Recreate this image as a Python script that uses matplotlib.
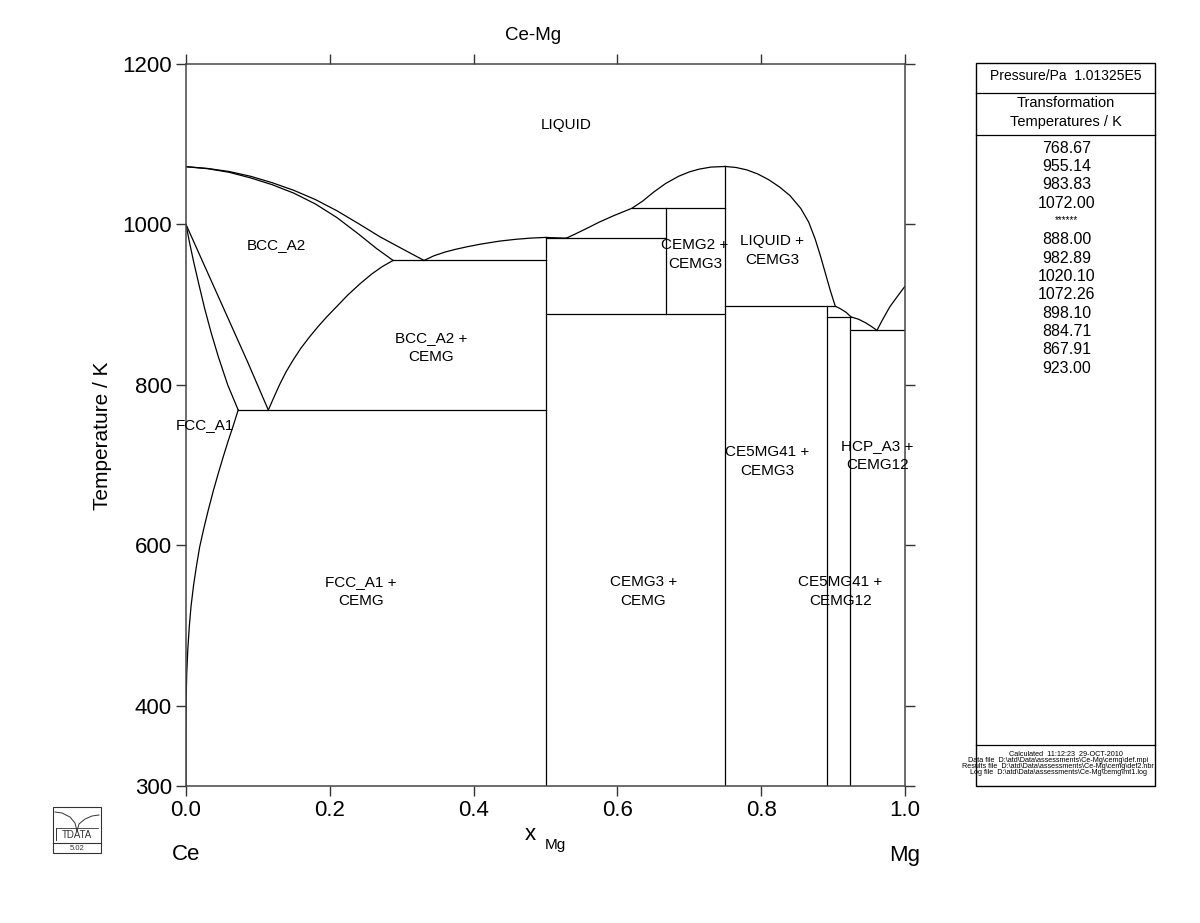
import matplotlib
matplotlib.use("Agg")
import matplotlib.pyplot as plt
from matplotlib.patches import Rectangle

plt.rcParams['font.family'] = ['Liberation Sans', 'DejaVu Sans']

# phase boundaries (x_Mg, T/K)
ceLiquidusX = [0.0, 0.03, 0.06, 0.09, 0.12, 0.15, 0.18, 0.21, 0.24, 0.27, 0.30, 0.331]
ceLiquidusT = [1072.0, 1069.8, 1066, 1060, 1052, 1042.5, 1031, 1017, 1001, 984.5, 970, 955.14]
bccSolidusX = [0.0, 0.03, 0.06, 0.09, 0.12, 0.15, 0.18, 0.21, 0.24, 0.265, 0.288]
bccSolidusT = [1072.0, 1069.5, 1065, 1058, 1049.5, 1039, 1025.5, 1008.5, 988, 970, 955.14]
bccSolvusX = [0.1145, 0.122, 0.13, 0.139, 0.149, 0.16, 0.172, 0.184, 0.196, 0.21, 0.225,
              0.242, 0.258, 0.273, 0.288]
bccSolvusT = [768.67, 784, 800, 816, 831, 846, 860, 873, 885, 898, 912, 926, 938, 947.5, 955.14]
fccBccX = [0.0, 0.005, 0.011, 0.018, 0.026, 0.035, 0.045, 0.058, 0.0726]
fccBccT = [1000, 977, 952, 925, 895, 865, 835, 800, 768.67]
bccFccX = [0.0, 0.028, 0.057, 0.086, 0.1145]
bccFccT = [1000, 944, 886, 828, 768.67]
fccSolvusX = [0.0726, 0.066, 0.059, 0.052, 0.045, 0.038, 0.031, 0.025, 0.019, 0.0145, 0.0105,
              0.007, 0.0045, 0.0025, 0.001, 0.0003, 0.0, 0.0]
fccSolvusT = [768.67, 750, 731, 711, 690, 668, 644, 622, 598, 574, 550,
              524, 498, 470, 440, 410, 370, 300]
midLiquidusX = [0.331, 0.345, 0.36, 0.375, 0.39, 0.41, 0.4367, 0.46, 0.48, 0.5, 0.515, 0.529]
midLiquidusT = [955.14, 961, 965.5, 969, 972, 975.5, 979.3, 981.6, 983, 983.83, 983.3, 982.89]
cemg3LiquidusX = [0.529, 0.54, 0.555, 0.575, 0.595, 0.62, 0.635, 0.65, 0.667, 0.685, 0.70,
                  0.714, 0.73, 0.75]
cemg3LiquidusT = [982.89, 987.5, 994, 1003, 1011, 1020.1, 1029, 1040, 1051, 1060, 1065.5,
                  1069, 1071.5, 1072.26]
mgSideLiquidusX = [0.75, 0.765, 0.78, 0.795, 0.81, 0.825, 0.84, 0.855, 0.866, 0.875, 0.882,
                   0.889, 0.896, 0.903, 0.91, 0.918, 0.925, 0.935, 0.945, 0.953, 0.961]
mgSideLiquidusT = [1072.26, 1071, 1068, 1063, 1056, 1047, 1036, 1020, 1003, 982, 962,
                   940, 918, 898.1, 895, 890.5, 884.71, 882, 877.5, 873, 867.91]
hcpLiquidusX = [0.961, 0.968, 0.979, 0.99, 1.0]
hcpLiquidusT = [867.91, 880, 897.5, 911, 923]

# invariant lines: (x_start, x_end, T)
invariants = [(0.0726, 0.5, 768.67), (0.288, 0.5, 955.14), (0.5, 0.667, 982.89),
              (0.62, 0.75, 1020.10), (0.5, 0.75, 888.00), (0.75, 0.903, 898.10),
              (0.8913, 0.925, 884.71), (0.923, 1.0, 867.91)]
# compounds: (x, T_bottom, T_top)
compounds = [(0.5, 300, 983.83), (0.667, 888.00, 1020.10), (0.75, 300, 1072.26),
             (0.8913, 300, 898.10), (0.923, 300, 884.71)]

regionLabels = ["LIQUID", "BCC_A2", "BCC_A2 +\nCEMG", "FCC_A1", "FCC_A1 +\nCEMG",
                "CEMG3 +\nCEMG", "CEMG2 +\nCEMG3", "LIQUID +\nCEMG3", "CE5MG41 +\nCEMG3",
                "HCP_A3 +\nCEMG12", "CE5MG41 +\nCEMG12"]
labelX = [0.5285, 0.125, 0.341, 0.026, 0.243, 0.636, 0.708, 0.815, 0.808, 0.962, 0.91]
labelT = [1124, 974, 846, 750, 543, 543, 963, 968, 705, 712, 543]

transTemps = ["768.67", "955.14", "983.83", "1072.00", "******", "888.00", "982.89",
              "1020.10", "1072.26", "898.10", "884.71", "867.91", "923.00"]
fileInfo = ["Calculated  11:12:23  29-OCT-2010",
            r"Data file  D:\atd\Data\assessments\Ce-Mg\cemg\def.mpi",
            r"Results file  D:\atd\Data\assessments\Ce-Mg\cemg\def2.nbr",
            r"Log file  D:\atd\Data\assessments\Ce-Mg\cemg\mt1.log"]

W, H = 1200, 923
fig = plt.figure(figsize=(W / 100, H / 100), dpi=100)
fig.set_facecolor('white')

def fx(px):
    return px / W

def fy(py):
    return 1 - py / H

ax = fig.add_axes([fx(186), fy(786), (905 - 186) / W, (786 - 64) / H])
lc = 'black'
lw = 0.9
for xs, ts in [(ceLiquidusX, ceLiquidusT), (bccSolidusX, bccSolidusT), (bccSolvusX, bccSolvusT),
               (fccBccX, fccBccT), (bccFccX, bccFccT), (fccSolvusX, fccSolvusT),
               (midLiquidusX, midLiquidusT), (cemg3LiquidusX, cemg3LiquidusT),
               (mgSideLiquidusX, mgSideLiquidusT), (hcpLiquidusX, hcpLiquidusT)]:
    ax.plot(xs, ts, color=lc, linewidth=lw)
for x0, x1, t in invariants:
    ax.plot([x0, x1], [t, t], color=lc, linewidth=lw)
for x, t0, t1 in compounds:
    ax.plot([x, x], [t0, t1], color=lc, linewidth=lw)

for lab, x, t in zip(regionLabels, labelX, labelT):
    ax.text(x, t, lab, ha='center', va='center', fontsize=11, linespacing=1.45, clip_on=False)

ax.set_xlim(0, 1)
ax.set_ylim(300, 1200)
ax.set_xticks([0.0, 0.2, 0.4, 0.6, 0.8, 1.0])
ax.set_xticklabels(["0.0", "0.2", "0.4", "0.6", "0.8", "1.0"])
ax.set_yticks([300, 400, 600, 800, 1000, 1200])
ax.tick_params(direction='out', length=7, width=1, labelsize=16, top=True, right=True,
               colors='#333333', labelcolor='black', pad=3)
for s in ax.spines.values():
    s.set_color('#444444')
    s.set_linewidth(1.1)

fig.text(fx(533), fy(35), "Ce-Mg", ha='center', va='center', fontsize=13.5)
fig.text(fx(103), fy(436), "Temperature / K", ha='center', va='center', fontsize=15, rotation=90)
fig.text(fx(530), fy(835), "x", ha='center', va='center', fontsize=16)
fig.text(fx(555), fy(845), "Mg", ha='center', va='center', fontsize=11)
fig.text(fx(186), fy(855), "Ce", ha='center', va='center', fontsize=16)
fig.text(fx(905), fy(855), "Mg", ha='center', va='center', fontsize=16)

# right-hand information panel
ov = fig.add_axes([0, 0, 1, 1])
ov.set_xlim(0, W)
ov.set_ylim(H, 0)
ov.axis('off')
ov.patch.set_alpha(0)
px0, px1, py0, py1 = 976, 1155, 63, 786
ov.add_patch(Rectangle((px0, py0), px1 - px0, py1 - py0, fill=False, edgecolor='black', linewidth=1))
for yl in [93, 135, 745]:
    ov.plot([px0, px1], [yl, yl], color='black', linewidth=0.9)
cx = (px0 + px1) / 2
ov.text(cx, 76, "Pressure/Pa  1.01325E5", ha='center', va='center', fontsize=10)
ov.text(cx, 103, "Transformation", ha='center', va='center', fontsize=10.5)
ov.text(cx, 122, "Temperatures / K", ha='center', va='center', fontsize=10.5)
for i, s in enumerate(transTemps):
    yy = 148.3 + i * 18.33
    if s.startswith('*'):
        ov.text(cx + 1, yy - 2, s, ha='center', va='center', fontsize=7)
    else:
        ov.text(cx + 1, yy, s, ha='center', va='center', fontsize=11.5)
for i, s in enumerate(fileInfo):
    ov.text(1058 if i else cx, 755 + i * 5.8, s, ha='center', va='center', fontsize=5.2)

# TDATA logo
ov.add_patch(Rectangle((53, 807), 48, 46, fill=False, edgecolor='#333333', linewidth=0.8))
ov.plot([53, 101], [843, 843], color='#333333', linewidth=0.8)
ov.plot([55, 62, 70, 75, 77], [812, 813, 817, 823, 831], color='#333333', linewidth=0.7)
ov.plot([77, 79, 85, 92, 99], [831, 824, 819, 816, 815], color='#333333', linewidth=0.7)
ov.plot([56, 56], [828, 840], color='#333333', linewidth=0.7)
ov.plot([56, 98], [828, 828], color='#333333', linewidth=0.6)
ov.text(77, 835, "TDATA", ha='center', va='center', fontsize=7, color='#333333')
ov.text(77, 848, "5.02", ha='center', va='center', fontsize=5.5, color='#333333')

fig.savefig("out.png", dpi=100, facecolor='white')
